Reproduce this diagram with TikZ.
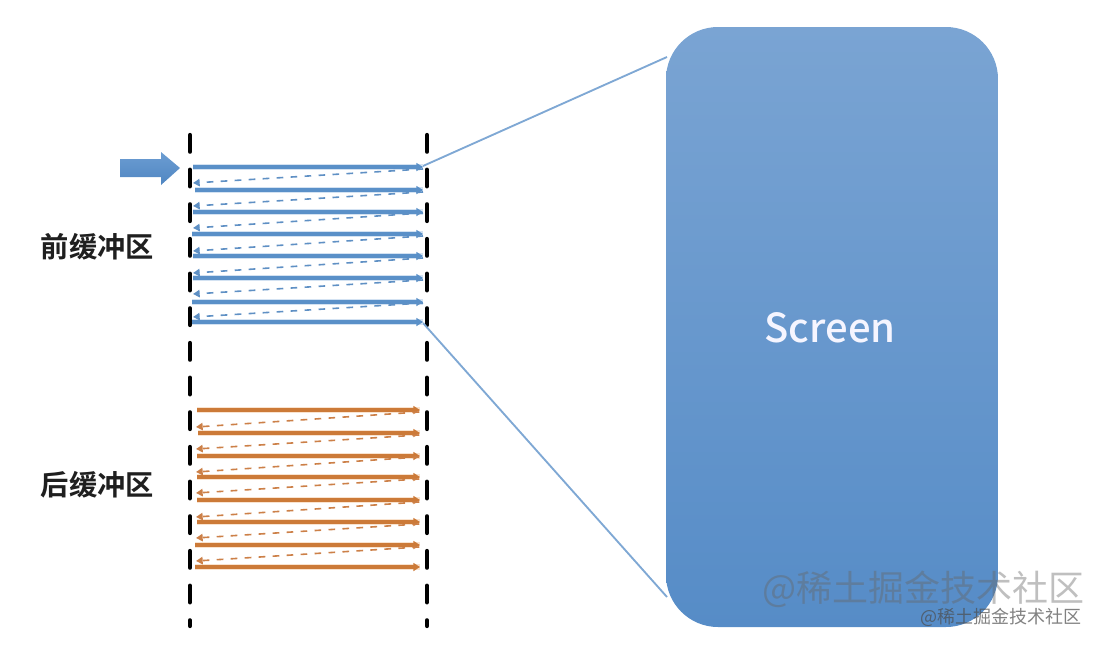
\documentclass[tikz,border=0pt]{standalone}
\usepackage{fontspec}
\setmainfont{Open Sans}
\newfontfamily\screenfont{Noto Sans CJK SC Medium}
\newfontfamily\cjkb[BoldFont={Noto Sans CJK SC Bold}]{Noto Sans CJK SC}
\newfontfamily\cjkr{Noto Sans CJK SC}
\usetikzlibrary{arrows.meta}
\definecolor{bluesolid}{HTML}{5A90C8}
\definecolor{bluehalo}{HTML}{D3E2F2}
\definecolor{bluedash}{HTML}{5F90C4}
\definecolor{orangesolid}{HTML}{CC7A38}
\definecolor{orangehalo}{HTML}{F9E3CF}
\definecolor{orangedash}{HTML}{CC8048}
\definecolor{screentop}{HTML}{7AA4D3}
\definecolor{screenbot}{HTML}{568CC7}
\definecolor{zoomline}{HTML}{7FA8D4}
\definecolor{arrowtop}{HTML}{6C9DD2}
\definecolor{arrowbot}{HTML}{4F86C2}
\tikzset{
  guide/.style={line width=3.2pt,black,line cap=round,dash pattern=on 12.5pt off 13.5pt},
  solidhalo/.style={line width=4pt},
  solidline/.style={line width=2.3pt,-{Triangle[length=5pt,width=6pt]}},
  dashline/.style={line width=1.2pt,dash pattern=on 5pt off 5.5pt,-{Triangle[length=5pt,width=5.5pt]}},
  zoomlink/.style={line width=1.4pt,zoomline},
  bufferlabel/.style={font=\cjkb\bfseries\fontsize{21.2pt}{25pt}\selectfont,text=black!88,inner sep=0pt},
}
\begin{document}
\begin{tikzpicture}[x=0.75pt,y=-0.75pt]
\useasboundingbox (0,0) rectangle (1100,646);
% guides
\coordinate (gla) at (190,135); \coordinate (glb) at (190,626);
\coordinate (gra) at (427,135); \coordinate (grb) at (427,626);
\draw[guide] (gla) -- (glb);
\draw[guide] (gra) -- (grb);
% screen
\node[rectangle,rounded corners=39pt,minimum width=249pt,minimum height=450pt,inner sep=0pt,
      top color=screentop,bottom color=screenbot,draw=none] (screen) at (832,327) {};
\node[text=white!96!blue,font=\screenfont\fontsize{30pt}{36pt}\selectfont,inner sep=0pt] (screenlabel) at (830,328) {Screen};
% zoom links
\coordinate (fronttop) at (423,166);
\coordinate (frontbot) at (423,323);
\coordinate (screentl) at (667,57);
\coordinate (screenbl) at (667,597);
\draw[zoomlink] (fronttop) -- (screentl);
\draw[zoomlink] (frontbot) -- (screenbl);
% front buffer
\foreach \y/\x in {167/193,190/195,212/193,234/192,256/193,278/193,302/192,322/192}{
  \coordinate (a) at (\x,\y); \coordinate (b) at (423,\y);
  \draw[solidhalo,bluehalo] (a) -- (b);
  \draw[solidline,bluesolid] (a) -- (b);
}
\foreach \r/\l in {169/183,192/206,213/228,236/251,258/273,280/294,303/317}{
  \coordinate (a) at (423,\r); \coordinate (b) at (193,\l);
  \draw[dashline,bluedash] (a) -- (b);
}
% back buffer
\foreach \y/\x in {410/197,433/198,456/197,477/197,500/197,522/197,545/195,567/195}{
  \coordinate (a) at (\x,\y); \coordinate (b) at (420,\y);
  \draw[solidhalo,orangehalo] (a) -- (b);
  \draw[solidline,orangesolid] (a) -- (b);
}
\foreach \r/\l in {412/427,435/449,457/472,479/493,502/517,524/538,547/561}{
  \coordinate (a) at (419,\r); \coordinate (b) at (196,\l);
  \draw[dashline,orangedash] (a) -- (b);
}
% block arrow
\path[top color=arrowtop,bottom color=arrowbot] (120,159) -- (161,159) -- (161,152) -- (180,168) -- (161,185) -- (161,177) -- (120,177) -- cycle;
% labels
\node[bufferlabel] (front) at (97.5,247) {前缓冲区};
\node[bufferlabel] (back) at (97.5,485) {后缓冲区};
% watermarks
\node[font=\cjkr\fontsize{27pt}{31pt}\selectfont,text=black!60,text opacity=0.42,inner sep=0pt] (wmbig) at (923.5,589) {@稀土掘金技术社区};
\node[font=\cjkr\fontsize{13.5pt}{16pt}\selectfont,text=black!70,text opacity=0.7,inner sep=0pt] (wmsmall) at (1001,617) {@稀土掘金技术社区};
\end{tikzpicture}
\end{document}
